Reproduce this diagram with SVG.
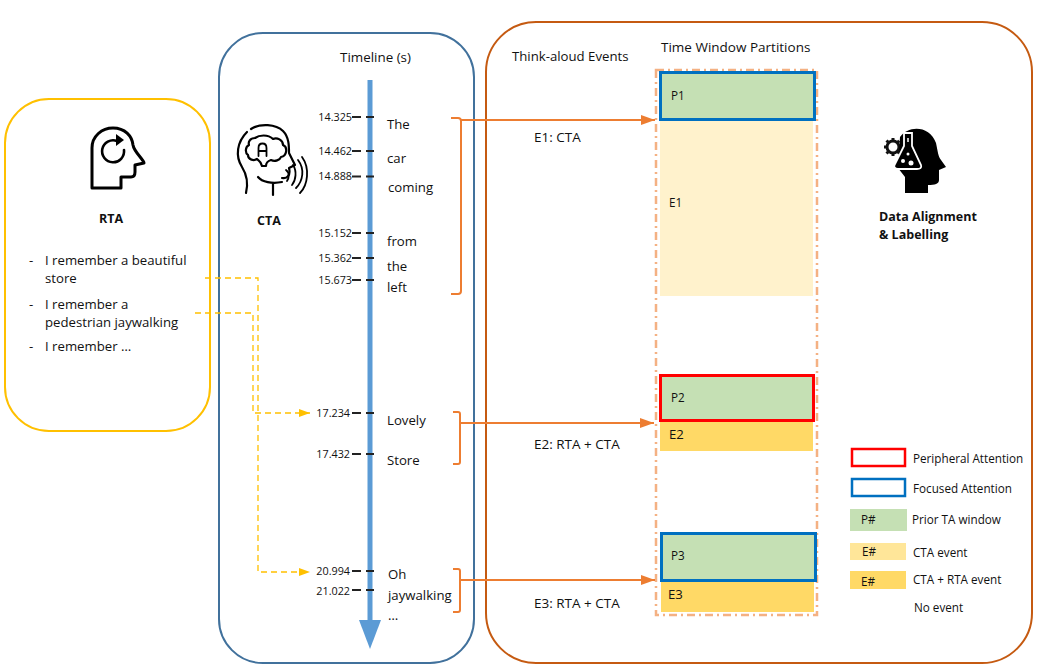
<svg xmlns="http://www.w3.org/2000/svg" width="1042" height="672" viewBox="0 0 1042 672">
<style>
text{font-family:"Open Sans","Liberation Sans",sans-serif;font-size:13.2px;fill:#111}
.b{font-weight:700;font-size:12.5px}
.n{font-size:10.8px}
.s{font-size:11.7px}
.m{font-size:13.5px}
.tick{stroke:#222;stroke-width:2;fill:none}
.or{stroke:#ED7D31;stroke-width:2;fill:none}
.ye{stroke:#FFC000;stroke-width:1.3;fill:none;stroke-dasharray:6 4}
.ic{stroke:#000;fill:none;stroke-linecap:round;stroke-linejoin:round}
.p{fill:#C5E0B4}
.blue{stroke:#0070C0;stroke-width:3}
.red{stroke:#FF0000;stroke-width:3}
</style>
<defs>
<marker id="ao" markerUnits="userSpaceOnUse" markerWidth="14" markerHeight="12" refX="14" refY="6" orient="auto"><path d="M0 1L14 6L0 11Z" fill="#ED7D31"/></marker>
<marker id="ay" markerUnits="userSpaceOnUse" markerWidth="11" markerHeight="10" refX="11" refY="5" orient="auto"><path d="M0 1L11 5L0 9Z" fill="#FFC000"/></marker>
</defs>
<rect width="1042" height="672" fill="#fff"/>

<g id="rta">
<rect x="5" y="99" width="205" height="332" rx="44" fill="#fff" stroke="#FFC000" stroke-width="2"/>
<path class="ic" stroke-width="3" d="M92 188V148C92 136 102 128 113 128C125 128 132 136 133 145C134 152 144 160 144 163L135 165V172C135 175 134 177 131 177H121V188Z"/>
<path class="ic" stroke-width="2.600" d="M124 150A11 11 0 1 1 117 141"/>
<path d="M116 134L124 140L116 146Z" fill="#000"/>
<text class="b" x="111" y="223" text-anchor="middle">RTA</text>
<text x="29" y="265">-</text><text x="45" y="265">I remember a beautiful</text>
<text x="45" y="283">store</text>
<text x="29" y="309">-</text><text x="45" y="309">I remember a</text>
<text x="45" y="327">pedestrian jaywalking</text>
<text x="29" y="351">-</text><text x="45" y="351">I remember …</text>
</g>

<g id="cta">
<rect x="219" y="33" width="255" height="630" rx="44" fill="none" stroke="#41719C" stroke-width="2"/>
<g class="ic" stroke-width="2.200">
<path d="M251 129C260 123 276 124 283 131C289 137 289 146 289 153L295 165L289 168C290 172 290 174 288 176C286 179 284 178 282 178"/>
<path d="M258 177C262 182 272 184 282 182"/>
<path d="M247 132C237 142 235 156 242 167C247 175 248 185 246 193"/>
<path d="M273 195V184"/>
<path d="M255 138C250 138 248 142 249 145C245 147 245 153 248 155C248 160 254 161 257 159C259 161 261 161 262 166H266C266 162 268 161 271 160C275 162 280 160 281 157C287 156 288 147 283 145C283 140 277 137 273 139C268 134 259 135 255 138Z"/>
<path d="M258.500 156V148C258.500 142 266.500 142 266.500 148V156M258.500 151H266.500" stroke-width="1.800"/>
<path d="M286 170C290 173 289 178 287 181M293 165C297 171 296 180 292 185M298 160C305 169 303 181 296 188M302 157C310 168 308 185 300 193" stroke-width="1.800"/>
</g>
<text class="b" x="269" y="225" text-anchor="middle">CTA</text>
<text x="340" y="62" style="font-size:13.4px">Timeline (s)</text>
</g>

<g id="timeline">
<rect x="367.500" y="80" width="5" height="541" fill="#5B9BD5"/>
<path d="M359 620H381L370 649Z" fill="#5B9BD5"/>
<path class="tick" d="M352 117H361M366 117H374M352 151H361M366 151H374M352 176.500H361M366 176.500H374M352 233H361M366 233H374M352 258H361M366 258H374M352 280H361M366 280H374M352 413H361M366 413H374M352 454H361M366 454H374M352 571H361M366 571H374M352 590H361M366 590H374"/>
<g text-anchor="end">
<text class="n" x="352" y="121">14.325</text>
<text class="n" x="352" y="155">14.462</text>
<text class="n" x="352" y="180">14.888</text>
<text class="n" x="352" y="237">15.152</text>
<text class="n" x="352" y="262">15.362</text>
<text class="n" x="352" y="284">15.673</text>
<text class="n" x="350" y="417">17.234</text>
<text class="n" x="350" y="458">17.432</text>
<text class="n" x="350" y="575">20.994</text>
<text class="n" x="350" y="595">21.022</text>
</g>
<text x="387" y="129">The</text>
<text x="387" y="163">car</text>
<text x="388" y="192">coming</text>
<text x="387" y="246">from</text>
<text x="387" y="271">the</text>
<text x="387" y="292">left</text>
<text x="387" y="425">Lovely</text>
<text x="387" y="465">Store</text>
<text x="388" y="579">Oh</text>
<text x="388" y="600">jaywalking</text>
<text x="388" y="620">…</text>
</g>

<g id="alignment">
<rect x="486" y="22" width="546" height="641" rx="50" fill="none" stroke="#C55A11" stroke-width="2"/>
<text x="512" y="61">Think-aloud Events</text>
<text class="m" x="661" y="52">Time Window Partitions</text>
<text class="m" x="534" y="142">E1: CTA</text>
<text class="m" x="534" y="449">E2: RTA + CTA</text>
<text class="m" x="534" y="608">E3: RTA + CTA</text>
<circle cx="893" cy="147" r="6" fill="none" stroke="#111" stroke-width="3"/>
<path d="M893 138V156M884 147H902M886.500 140.500L899.500 153.500M886.500 153.500L899.500 140.500" stroke="#111" stroke-width="3" stroke-dasharray="2.500 13 2.500"/>
<path d="M900 137C908 125 930 125 936 143C938 152 938 156 941 160L946 167L939 170V180C939 184 935 185 928 185V193H905V177L898 168Z" fill="#000"/>
<path d="M904 133H912V146L921 165C922 168 920 169 917 169H898C895 169 893 167 895 164L904 146Z" fill="#000" stroke="#fff" stroke-width="1.800"/>
<path d="M908 138V142" stroke="#fff" stroke-width="1.500"/>
<circle cx="903" cy="161" r="2" fill="#fff"/><circle cx="911" cy="163" r="2.500" fill="#fff"/><circle cx="908" cy="154" r="1.500" fill="#fff"/>
<text class="b" x="879" y="221">Data Alignment</text>
<text class="b" x="879" y="239">&amp; Labelling</text>
</g>

<g id="partitions">
<rect x="656" y="70" width="161" height="545" fill="none" stroke="#F4B183" stroke-width="2.500" stroke-dasharray="8 4 2 4"/>
<rect id="e1" x="660" y="120" width="153" height="176" fill="#FFF2CC"/>
<rect id="e2" x="660" y="420" width="153" height="31" fill="#FFD966"/>
<rect id="e3" x="661" y="580" width="153" height="32" fill="#FFD966"/>
<rect id="p1" class="p blue" x="660.500" y="72.500" width="154" height="47"/>
<rect id="p2" class="p red" x="660.500" y="375.500" width="153" height="45"/>
<rect id="p3" class="p blue" x="661.500" y="533.500" width="154" height="47"/>
<text class="s" x="671" y="100">P1</text>
<text class="s" x="669" y="207">E1</text>
<text class="s" x="671" y="402">P2</text>
<text x="669" y="439">E2</text>
<text class="s" x="671" y="560">P3</text>
<text x="668" y="599">E3</text>
</g>

<g id="legend">
<rect x="852" y="449" width="53" height="17" fill="#fff" stroke="#FF0000" stroke-width="2.500"/>
<rect x="852" y="479" width="53" height="17" fill="#fff" stroke="#0070C0" stroke-width="2.500"/>
<rect x="850" y="509" width="57" height="22" fill="#C5E0B4"/>
<rect x="850" y="543" width="56" height="17" fill="#FFE699"/>
<rect x="850" y="571" width="56" height="18" fill="#FFD966"/>
<text class="s" x="861" y="524">P#</text>
<text class="s" x="862" y="556">E#</text>
<text class="s" x="861" y="586">E#</text>
<g>
<text class="s" x="913" y="463">Peripheral Attention</text>
<text class="s" x="913" y="493">Focused Attention</text>
<text class="s" x="912" y="524">Prior TA window</text>
<text class="s" x="913" y="557">CTA event</text>
<text class="s" x="913" y="584">CTA + RTA event</text>
<text class="s" x="914" y="612">No event</text>
</g>
</g>

<g id="connectors">
<path class="or" d="M451 118H458Q461 118 461 121V291Q461 294 458 294H451"/>
<path class="or" d="M453 412H458Q460 412 460 414V462Q460 464 458 464H453"/>
<path class="or" d="M453 569H458Q460 569 460 571V610Q460 612 458 612H453"/>
<path class="or" d="M461 120H655" marker-end="url(#ao)"/>
<path class="or" d="M460 423H654" marker-end="url(#ao)"/>
<path class="or" d="M460 580H655" marker-end="url(#ao)"/>
<path class="ye" d="M205 278H258V572H310" marker-end="url(#ay)"/>
<path class="ye" d="M195 313H253V413H310" marker-end="url(#ay)"/>
</g>
</svg>
